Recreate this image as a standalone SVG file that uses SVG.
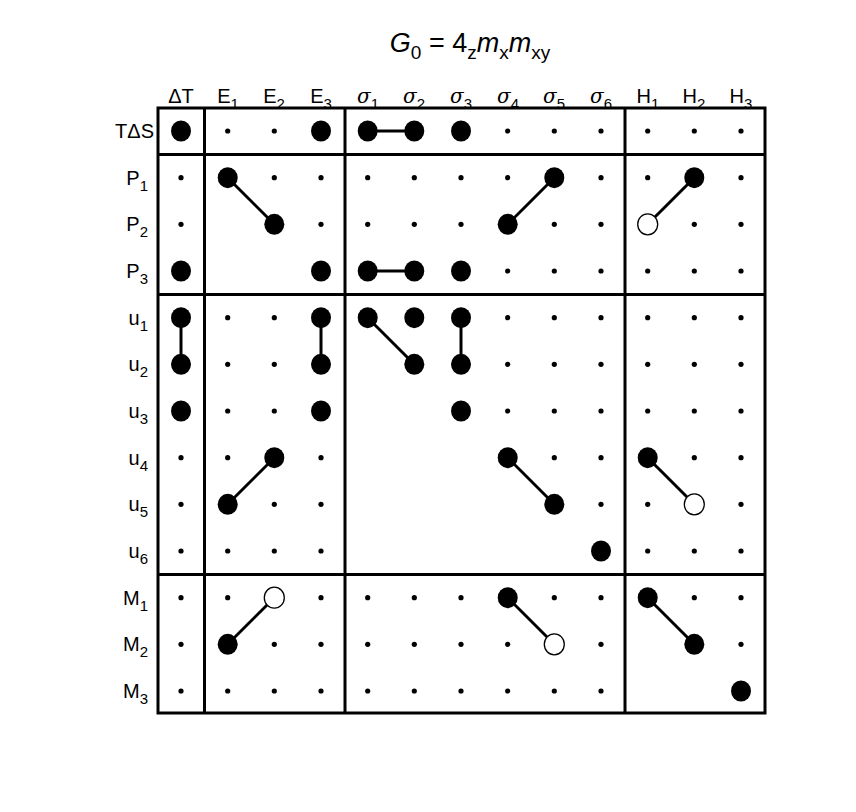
<svg xmlns="http://www.w3.org/2000/svg" xmlns:xlink="http://www.w3.org/1999/xlink" width="856" height="812" viewBox="0 0 856 812">
<style>
text{font-family:"Liberation Sans",Arial,sans-serif;fill:#000}
.lab{font-size:20px}
.hd{font-size:20px;text-anchor:middle}
.rl{font-size:20px;text-anchor:end}
.fr{fill:none;stroke:#000;stroke-width:3}
.cn line{stroke:#000;stroke-width:3}
</style>
<defs>
<circle id="d" r="2.6" fill="#000"/>
<ellipse id="B" rx="10" ry="10.5" fill="#000"/>
<ellipse id="O" rx="10" ry="10.5" fill="#fff" stroke="#000" stroke-width="1.3"/>
</defs>
<rect width="856" height="812" fill="#fff"/>
<text x="470" y="52" font-size="27" text-anchor="middle"><tspan font-style="italic">G</tspan><tspan font-size="19" dy="7">0</tspan><tspan dy="-7"> = 4</tspan><tspan font-size="19" dy="7">z</tspan><tspan font-style="italic" dy="-7">m</tspan><tspan font-size="19" dy="7">x</tspan><tspan font-style="italic" dy="-7">m</tspan><tspan font-size="19" dy="7">xy</tspan></text>
<g id="headers" class="hd">
<text x="181" y="103">ΔT</text>
<text x="228" y="103">E<tspan font-size="15" dy="6">1</tspan></text>
<text x="274" y="103">E<tspan font-size="15" dy="6">2</tspan></text>
<text x="321" y="103">E<tspan font-size="15" dy="6">3</tspan></text>
<text x="368" y="103"><tspan font-style="italic" font-family="DejaVu Serif,serif">σ</tspan><tspan font-size="15" dy="6">1</tspan></text>
<text x="414" y="103"><tspan font-style="italic" font-family="DejaVu Serif,serif">σ</tspan><tspan font-size="15" dy="6">2</tspan></text>
<text x="461" y="103"><tspan font-style="italic" font-family="DejaVu Serif,serif">σ</tspan><tspan font-size="15" dy="6">3</tspan></text>
<text x="508" y="103"><tspan font-style="italic" font-family="DejaVu Serif,serif">σ</tspan><tspan font-size="15" dy="6">4</tspan></text>
<text x="554" y="103"><tspan font-style="italic" font-family="DejaVu Serif,serif">σ</tspan><tspan font-size="15" dy="6">5</tspan></text>
<text x="601" y="103"><tspan font-style="italic" font-family="DejaVu Serif,serif">σ</tspan><tspan font-size="15" dy="6">6</tspan></text>
<text x="648" y="103">H<tspan font-size="15" dy="6">1</tspan></text>
<text x="694" y="103">H<tspan font-size="15" dy="6">2</tspan></text>
<text x="741" y="103">H<tspan font-size="15" dy="6">3</tspan></text>
</g>
<g id="rowlabels" class="rl">
<text x="154" y="138">TΔS</text>
<text x="148" y="185">P<tspan font-size="15" dy="6">1</tspan></text>
<text x="148" y="231">P<tspan font-size="15" dy="6">2</tspan></text>
<text x="148" y="278">P<tspan font-size="15" dy="6">3</tspan></text>
<text x="148" y="325">u<tspan font-size="15" dy="6">1</tspan></text>
<text x="148" y="371">u<tspan font-size="15" dy="6">2</tspan></text>
<text x="148" y="418">u<tspan font-size="15" dy="6">3</tspan></text>
<text x="148" y="465">u<tspan font-size="15" dy="6">4</tspan></text>
<text x="148" y="511">u<tspan font-size="15" dy="6">5</tspan></text>
<text x="148" y="558">u<tspan font-size="15" dy="6">6</tspan></text>
<text x="148" y="605">M<tspan font-size="15" dy="6">1</tspan></text>
<text x="148" y="651">M<tspan font-size="15" dy="6">2</tspan></text>
<text x="148" y="698">M<tspan font-size="15" dy="6">3</tspan></text>
</g>
<g id="frame" class="fr">
<rect x="158" y="108" width="607" height="605"/>
<line x1="204.5" y1="108" x2="204.5" y2="713"/>
<line x1="345" y1="108" x2="345" y2="713"/>
<line x1="625" y1="108" x2="625" y2="713"/>
<line x1="158" y1="154.5" x2="765" y2="154.5"/>
<line x1="158" y1="294.5" x2="765" y2="294.5"/>
<line x1="158" y1="574.5" x2="765" y2="574.5"/>
</g>
<g id="connectors" class="cn">
<line x1="367.7" y1="131" x2="414.3" y2="131"/>
<line x1="227.7" y1="177.7" x2="274.3" y2="224.3"/>
<line x1="554.3" y1="177.7" x2="507.7" y2="224.3"/>
<line x1="694.3" y1="177.7" x2="647.7" y2="224.3"/>
<line x1="367.7" y1="271" x2="414.3" y2="271"/>
<line x1="181" y1="317.7" x2="181" y2="364.3"/>
<line x1="321" y1="317.7" x2="321" y2="364.3"/>
<line x1="367.7" y1="317.7" x2="414.3" y2="364.3"/>
<line x1="461" y1="317.7" x2="461" y2="364.3"/>
<line x1="274.3" y1="457.7" x2="227.7" y2="504.3"/>
<line x1="507.7" y1="457.7" x2="554.3" y2="504.3"/>
<line x1="647.7" y1="457.7" x2="694.3" y2="504.3"/>
<line x1="274.3" y1="597.7" x2="227.7" y2="644.3"/>
<line x1="507.7" y1="597.7" x2="554.3" y2="644.3"/>
<line x1="647.7" y1="597.7" x2="694.3" y2="644.3"/>
</g>
<g id="nodes">
<!-- TdS -->
<use href="#B" x="181" y="131"/><use href="#d" x="227.7" y="131"/><use href="#d" x="274.3" y="131"/><use href="#B" x="321" y="131"/><use href="#B" x="367.7" y="131"/><use href="#B" x="414.3" y="131"/><use href="#B" x="461" y="131"/><use href="#d" x="507.7" y="131"/><use href="#d" x="554.3" y="131"/><use href="#d" x="601" y="131"/><use href="#d" x="647.7" y="131"/><use href="#d" x="694.3" y="131"/><use href="#d" x="741" y="131"/>
<!-- P1 -->
<use href="#d" x="181" y="177.7"/><use href="#B" x="227.7" y="177.7"/><use href="#d" x="274.3" y="177.7"/><use href="#d" x="321" y="177.7"/><use href="#d" x="367.7" y="177.7"/><use href="#d" x="414.3" y="177.7"/><use href="#d" x="461" y="177.7"/><use href="#d" x="507.7" y="177.7"/><use href="#B" x="554.3" y="177.7"/><use href="#d" x="601" y="177.7"/><use href="#d" x="647.7" y="177.7"/><use href="#B" x="694.3" y="177.7"/><use href="#d" x="741" y="177.7"/>
<!-- P2 -->
<use href="#d" x="181" y="224.3"/><use href="#B" x="274.3" y="224.3"/><use href="#d" x="321" y="224.3"/><use href="#d" x="367.7" y="224.3"/><use href="#d" x="414.3" y="224.3"/><use href="#d" x="461" y="224.3"/><use href="#B" x="507.7" y="224.3"/><use href="#d" x="554.3" y="224.3"/><use href="#d" x="601" y="224.3"/><use href="#O" x="647.7" y="224.3"/><use href="#d" x="694.3" y="224.3"/><use href="#d" x="741" y="224.3"/>
<!-- P3 -->
<use href="#B" x="181" y="271"/><use href="#B" x="321" y="271"/><use href="#B" x="367.7" y="271"/><use href="#B" x="414.3" y="271"/><use href="#B" x="461" y="271"/><use href="#d" x="507.7" y="271"/><use href="#d" x="554.3" y="271"/><use href="#d" x="601" y="271"/><use href="#d" x="647.7" y="271"/><use href="#d" x="694.3" y="271"/><use href="#d" x="741" y="271"/>
<!-- u1 -->
<use href="#B" x="181" y="317.7"/><use href="#d" x="227.7" y="317.7"/><use href="#d" x="274.3" y="317.7"/><use href="#B" x="321" y="317.7"/><use href="#B" x="367.7" y="317.7"/><use href="#B" x="414.3" y="317.7"/><use href="#B" x="461" y="317.7"/><use href="#d" x="507.7" y="317.7"/><use href="#d" x="554.3" y="317.7"/><use href="#d" x="601" y="317.7"/><use href="#d" x="647.7" y="317.7"/><use href="#d" x="694.3" y="317.7"/><use href="#d" x="741" y="317.7"/>
<!-- u2 -->
<use href="#B" x="181" y="364.3"/><use href="#d" x="227.7" y="364.3"/><use href="#d" x="274.3" y="364.3"/><use href="#B" x="321" y="364.3"/><use href="#B" x="414.3" y="364.3"/><use href="#B" x="461" y="364.3"/><use href="#d" x="507.7" y="364.3"/><use href="#d" x="554.3" y="364.3"/><use href="#d" x="601" y="364.3"/><use href="#d" x="647.7" y="364.3"/><use href="#d" x="694.3" y="364.3"/><use href="#d" x="741" y="364.3"/>
<!-- u3 -->
<use href="#B" x="181" y="411"/><use href="#d" x="227.7" y="411"/><use href="#d" x="274.3" y="411"/><use href="#B" x="321" y="411"/><use href="#B" x="461" y="411"/><use href="#d" x="507.7" y="411"/><use href="#d" x="554.3" y="411"/><use href="#d" x="601" y="411"/><use href="#d" x="647.7" y="411"/><use href="#d" x="694.3" y="411"/><use href="#d" x="741" y="411"/>
<!-- u4 -->
<use href="#d" x="181" y="457.7"/><use href="#d" x="227.7" y="457.7"/><use href="#B" x="274.3" y="457.7"/><use href="#d" x="321" y="457.7"/><use href="#B" x="507.7" y="457.7"/><use href="#d" x="554.3" y="457.7"/><use href="#d" x="601" y="457.7"/><use href="#B" x="647.7" y="457.7"/><use href="#d" x="694.3" y="457.7"/><use href="#d" x="741" y="457.7"/>
<!-- u5 -->
<use href="#d" x="181" y="504.3"/><use href="#B" x="227.7" y="504.3"/><use href="#d" x="274.3" y="504.3"/><use href="#d" x="321" y="504.3"/><use href="#B" x="554.3" y="504.3"/><use href="#d" x="601" y="504.3"/><use href="#d" x="647.7" y="504.3"/><use href="#O" x="694.3" y="504.3"/><use href="#d" x="741" y="504.3"/>
<!-- u6 -->
<use href="#d" x="181" y="551"/><use href="#d" x="227.7" y="551"/><use href="#d" x="274.3" y="551"/><use href="#d" x="321" y="551"/><use href="#B" x="601" y="551"/><use href="#d" x="647.7" y="551"/><use href="#d" x="694.3" y="551"/><use href="#d" x="741" y="551"/>
<!-- M1 -->
<use href="#d" x="181" y="597.7"/><use href="#d" x="227.7" y="597.7"/><use href="#O" x="274.3" y="597.7"/><use href="#d" x="321" y="597.7"/><use href="#d" x="367.7" y="597.7"/><use href="#d" x="414.3" y="597.7"/><use href="#d" x="461" y="597.7"/><use href="#B" x="507.7" y="597.7"/><use href="#d" x="554.3" y="597.7"/><use href="#d" x="601" y="597.7"/><use href="#B" x="647.7" y="597.7"/><use href="#d" x="694.3" y="597.7"/><use href="#d" x="741" y="597.7"/>
<!-- M2 -->
<use href="#d" x="181" y="644.3"/><use href="#B" x="227.7" y="644.3"/><use href="#d" x="274.3" y="644.3"/><use href="#d" x="321" y="644.3"/><use href="#d" x="367.7" y="644.3"/><use href="#d" x="414.3" y="644.3"/><use href="#d" x="461" y="644.3"/><use href="#d" x="507.7" y="644.3"/><use href="#O" x="554.3" y="644.3"/><use href="#d" x="601" y="644.3"/><use href="#B" x="694.3" y="644.3"/><use href="#d" x="741" y="644.3"/>
<!-- M3 -->
<use href="#d" x="181" y="691"/><use href="#d" x="227.7" y="691"/><use href="#d" x="274.3" y="691"/><use href="#d" x="321" y="691"/><use href="#d" x="367.7" y="691"/><use href="#d" x="414.3" y="691"/><use href="#d" x="461" y="691"/><use href="#d" x="507.7" y="691"/><use href="#d" x="554.3" y="691"/><use href="#d" x="601" y="691"/><use href="#B" x="741" y="691"/>
</g>
</svg>
